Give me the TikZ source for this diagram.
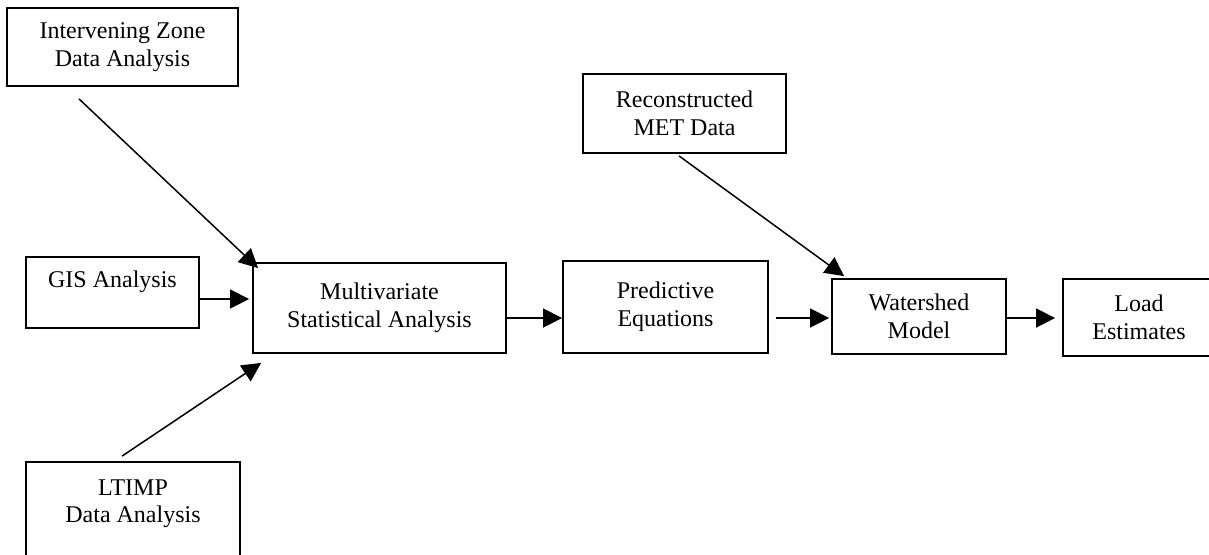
\documentclass[tikz,border=0pt]{standalone}
\usepackage{fontspec}
\setmainfont{Liberation Serif}
\usetikzlibrary{arrows.meta}
\tikzset{
	procbox/.style={draw, line width=0.9pt, align=center, inner sep=0pt,
		font=\fontsize{12}{13.8}\selectfont},
	flow/.style={line width=0.75pt, -{Triangle[length=9.5pt,width=9.5pt]}}
}
\begin{document}
\begin{tikzpicture}[x=0.5pt, y=-0.5pt]
	\useasboundingbox (0,0) rectangle (1209,554);
	% Eingangsdaten
	\node[procbox, minimum width=115.5pt, minimum height=39pt] (zone) at (122.5,47) {Intervening Zone\\Data Analysis};
	\node[procbox, minimum width=86.5pt, minimum height=35.5pt] (gis) at (112.5,292.5) {GIS Analysis\\ \mbox{}};
	\node[procbox, minimum width=107pt, minimum height=53pt] (ltimp) at (133,515) {LTIMP\\Data Analysis\\ \mbox{}};
	\node[procbox, minimum width=101.5pt, minimum height=39.5pt] (met) at (684.5,113.5) {Reconstructed\\MET Data};
	% Verarbeitungskette
	\node[procbox, minimum width=126.5pt, minimum height=45pt] (msa) at (379.5,308) {Multivariate\\Statistical Analysis};
	\node[procbox, minimum width=102.5pt, minimum height=46pt] (pred) at (665.5,307) {Predictive\\Equations};
	\node[procbox, minimum width=87pt, minimum height=37.5pt] (wsm) at (919,316.5) {Watershed\\Model};
	\node[procbox, minimum width=76pt, minimum height=38.5pt] (load) at (1139,317.5) {Load\\Estimates};

	% Pfeile
	\coordinate (gisout) at ([yshift=-3.25pt]gis.east);
	\coordinate (msaout) at ([yshift=-5pt]msa.east);
	\coordinate (predout) at ([xshift=3.5pt,yshift=-5.5pt]pred.east);
	\coordinate (wsmout) at ([yshift=-0.75pt]wsm.east);
	\draw[flow] ([xshift=-21.75pt,yshift=-6pt]zone.south) -- ([xshift=3pt,yshift=-3pt]msa.north west);
	\draw[flow, shorten >=1.5pt] (gisout) -- (gisout -| msa.west);
	\draw[flow] ([xshift=-5.5pt,yshift=2.5pt]ltimp.north) -- ([xshift=4.5pt,yshift=-4.5pt]msa.south west);
	\draw[flow] (msaout) -- (msaout -| pred.west);
	\draw[flow] ([xshift=-2.75pt,yshift=-1pt]met.south) -- ([xshift=6.5pt,yshift=1pt]wsm.north west);
	\draw[flow, shorten >=1pt] (predout) -- (predout -| wsm.west);
	\draw[flow, shorten >=3.5pt] (wsmout) -- (wsmout -| load.west);
\end{tikzpicture}
\end{document}
